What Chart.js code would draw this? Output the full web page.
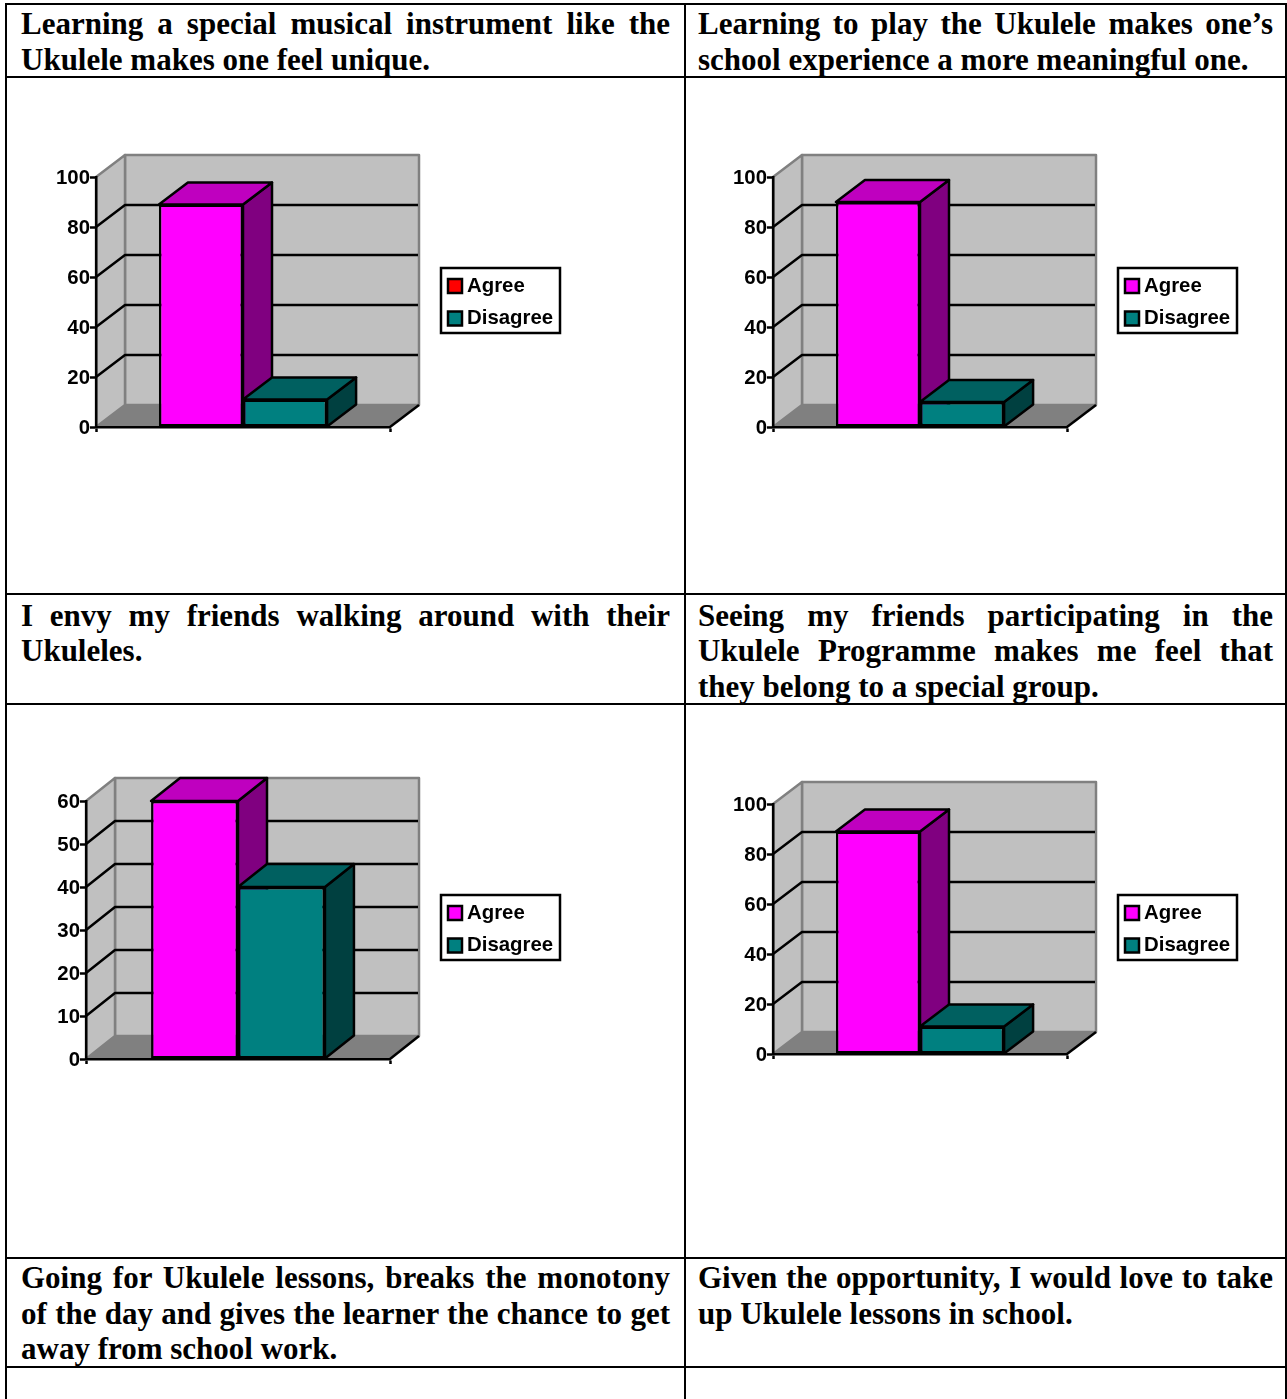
<!DOCTYPE html>
<html>
<head>
<meta charset="utf-8">
<title>Ukulele Programme survey</title>
<script src="https://cdn.jsdelivr.net/npm/chart.js@4"></script>
<style>
  html, body { margin: 0; padding: 0; background: #fff; overflow: hidden; height: 1399px; }
  table { position: absolute; left: 5px; top: 3px; border-collapse: collapse; table-layout: fixed; width: 1280px; }
  td { border: 2px solid #000; padding: 0; vertical-align: top; box-sizing: border-box; }
  td.q { font: bold 31px/35.5px "Liberation Serif", serif; text-align: justify; color: #000; }
  td.q div { position: relative; top: 1px; }
  tr.mid td.q div { top: 2.5px; }
  td.l { padding: 0 14px; }
  td.r { padding: 0 12px; }
  canvas { position: absolute; }
</style>
</head>
<body>
<table>
  <colgroup><col style="width:679px"><col style="width:601px"></colgroup>
  <tr style="height:73px"><td class="q l"><div id="q0"></div></td><td class="q r"><div id="q1"></div></td></tr>
  <tr style="height:517px"><td></td><td></td></tr>
  <tr class="mid" style="height:110px"><td class="q l"><div id="q2"></div></td><td class="q r"><div id="q3"></div></td></tr>
  <tr style="height:554px"><td></td><td></td></tr>
  <tr style="height:109px"><td class="q l"><div id="q4"></div></td><td class="q r"><div id="q5"></div></td></tr>
  <tr style="height:60px"><td></td><td></td></tr>
</table>
<canvas id="chart0" width="660" height="500" style="left:10px;top:80px"></canvas>
<canvas id="chart1" width="590" height="500" style="left:690px;top:80px"></canvas>
<canvas id="chart2" width="660" height="530" style="left:10px;top:710px"></canvas>
<canvas id="chart3" width="590" height="530" style="left:690px;top:710px"></canvas>
<script>
// survey statements, in table order
const questions = [
    'Learning a special musical instrument like the Ukulele makes one feel unique.',
    'Learning to play the Ukulele makes one\u2019s school experience a more meaningful one.',
    'I envy my friends walking around with their Ukuleles.',
    'Seeing my friends participating in the Ukulele Programme makes me feel that they belong to a special group.',
    'Going for Ukulele lessons, breaks the monotony of the day and gives the learner the chance to get away from school work.',
    'Given the opportunity, I would love to take up Ukulele lessons in school.'
];

// chart data
const categories = [''];
const seriesNames = ['Agree', 'Disagree'];
const agreeValues = [89, 90, 60, 89];
const disagreeValues = [11, 10, 40, 11];
const axisMaximums = [100, 100, 60, 100];
const axisSteps = [20, 20, 10, 20];

// colours: front, top and side face of each series
const FACES = [
    { front: '#FF00FF', top: '#BF00BF', side: '#800080' },
    { front: '#008080', top: '#006060', side: '#004040' }
];
const WALL = '#C0C0C0';
const FLOOR = '#808080';
const INK = '#000000';
const LINE = 2.5;
const FONT = { family: '"Liberation Sans", Arial, sans-serif', size: 20.4, weight: 'bold' };

// page rectangle of each plot: front axis corner, plus depth and legend frame
const PANELS = [
    { canvas: 'chart0', left: 96, right: 390, top: 177, bottom: 427, dx: 29, dy: 22, frameX: 441, frameY: 268, agreeSwatch: '#FF0000' },
    { canvas: 'chart1', left: 773, right: 1067, top: 177, bottom: 427, dx: 29, dy: 22, frameX: 1118, frameY: 268 },
    { canvas: 'chart2', left: 86, right: 390, top: 801, bottom: 1059, dx: 29, dy: 23, frameX: 441, frameY: 895 },
    { canvas: 'chart3', left: 773, right: 1067, top: 804, bottom: 1054, dx: 29, dy: 22, frameX: 1118, frameY: 895 }
];

questions.forEach((text, i) => {
    document.getElementById('q' + i).textContent = text;
});

function polygon(ctx, pts, fill, stroke, width) {
    ctx.beginPath();
    pts.forEach((p, i) => (i ? ctx.lineTo(p[0], p[1]) : ctx.moveTo(p[0], p[1])));
    ctx.closePath();
    ctx.fillStyle = fill;
    ctx.fill();
    ctx.strokeStyle = stroke;
    ctx.lineWidth = width;
    ctx.stroke();
}

// walls, floor and receding gridlines of the 3D box
const boxPlugin = {
    id: 'box3d',
    beforeDraw(chart, args, opts) {
        const { ctx, chartArea: a, scales: { y } } = chart;
        const { dx, dy } = opts;
        ctx.save();
        ctx.lineJoin = 'round';
        polygon(ctx, [[a.left, a.bottom], [a.right, a.bottom], [a.right + dx, a.bottom - dy], [a.left + dx, a.bottom - dy]], FLOOR, FLOOR, 1);
        polygon(ctx, [[a.left + dx, a.top - dy], [a.right + dx, a.top - dy], [a.right + dx, a.bottom - dy], [a.left + dx, a.bottom - dy]], WALL, FLOOR, LINE);
        polygon(ctx, [[a.left, a.top], [a.left + dx, a.top - dy], [a.left + dx, a.bottom - dy], [a.left, a.bottom]], WALL, FLOOR, LINE);
        ctx.strokeStyle = INK;
        ctx.lineWidth = LINE;
        y.ticks.forEach(t => {
            if (t.value === y.min || t.value === y.max) return;
            const py = y.getPixelForValue(t.value);
            ctx.beginPath();
            ctx.moveTo(a.left, py);
            ctx.lineTo(a.left + dx, py - dy);
            ctx.lineTo(a.right + dx - 1, py - dy);
            ctx.stroke();
        });
        ctx.beginPath();
        ctx.moveTo(a.right, a.bottom);
        ctx.lineTo(a.right + dx, a.bottom - dy);
        ctx.stroke();
        ctx.restore();
    },
    // top and side faces go under the front faces chart.js draws
    beforeDatasetsDraw(chart, args, opts) {
        const { ctx } = chart;
        const { dx, dy } = opts;
        ctx.save();
        ctx.lineJoin = 'round';
        chart.data.datasets.forEach((ds, i) => {
            const bar = chart.getDatasetMeta(i).data[0];
            const l = bar.x - bar.width / 2;
            const r = bar.x + bar.width / 2;
            polygon(ctx, [[r, bar.y], [r + dx, bar.y - dy], [r + dx, bar.base - dy], [r, bar.base]], FACES[i].side, INK, LINE);
            polygon(ctx, [[l, bar.y], [l + dx, bar.y - dy], [r + dx, bar.y - dy], [r, bar.y]], FACES[i].top, INK, LINE);
        });
        ctx.restore();
    },
    afterDraw(chart, args, opts) {
        const { ctx } = chart;
        ctx.save();
        ctx.strokeStyle = INK;
        ctx.lineWidth = LINE;
        ctx.strokeRect(opts.frameX, opts.frameY, 119, 65);
        ctx.restore();
    },
    // the legend sits beside the plot without taking room from it
    afterLayout(chart, args, opts) {
        const lg = chart.legend;
        const w = lg.width;
        const h = lg.height;
        lg.left = opts.frameX + 0.2;
        lg.top = opts.frameY - 4.2;
        lg.right = lg.left + w;
        lg.bottom = lg.top + h;
    }
};

function renderPanel(panel, index) {
    const canvas = document.getElementById(panel.canvas);
    const box = canvas.getBoundingClientRect();
    const axisWidth = panel.left - box.left;

    new Chart(canvas, {
        type: 'bar',
        data: {
            labels: categories,
            datasets: [agreeValues, disagreeValues].map((values, s) => ({
                label: seriesNames[s],
                data: [values[index]],
                backgroundColor: FACES[s].front,
                borderColor: INK,
                borderWidth: LINE,
                borderSkipped: false,
                clip: false,
                categoryPercentage: 0.572,
                barPercentage: 1
            }))
        },
        options: {
            responsive: false,
            animation: false,
            layout: {
                padding: {
                    left: 0,
                    top: panel.top - box.top,
                    right: box.right - panel.right,
                    bottom: box.bottom - panel.bottom - 6
                }
            },
            plugins: {
                tooltip: { enabled: false },
                box3d: { dx: panel.dx, dy: panel.dy, frameX: panel.frameX - box.left, frameY: panel.frameY - box.top },
                legend: {
                    position: 'chartArea',
                    align: 'start',
                    labels: {
                        color: INK,
                        font: FONT,
                        usePointStyle: true,
                        pointStyle: 'rect',
                        boxWidth: 3.6,
                        boxHeight: 14,
                        padding: 12,
                        generateLabels(chart) {
                            const items = Chart.defaults.plugins.legend.labels.generateLabels(chart);
                            if (panel.agreeSwatch) items[0].fillStyle = panel.agreeSwatch;
                            return items;
                        }
                    }
                }
            },
            scales: {
                x: {
                    afterFit(scale) { scale.height = 6; },
                    border: { color: INK, width: LINE },
                    grid: { drawOnChartArea: false, tickLength: 5, tickColor: INK, tickWidth: LINE },
                    ticks: { display: false }
                },
                y: {
                    min: 0,
                    max: axisMaximums[index],
                    afterFit(scale) { scale.width = axisWidth; },
                    border: { color: INK, width: LINE },
                    grid: { drawOnChartArea: false, tickLength: 6, tickColor: INK, tickWidth: LINE },
                    ticks: { stepSize: axisSteps[index], color: INK, font: FONT, padding: 0, labelOffset: 1 }
                }
            }
        },
        plugins: [boxPlugin]
    });
}

PANELS.forEach(renderPanel);
</script>
</body>
</html>
